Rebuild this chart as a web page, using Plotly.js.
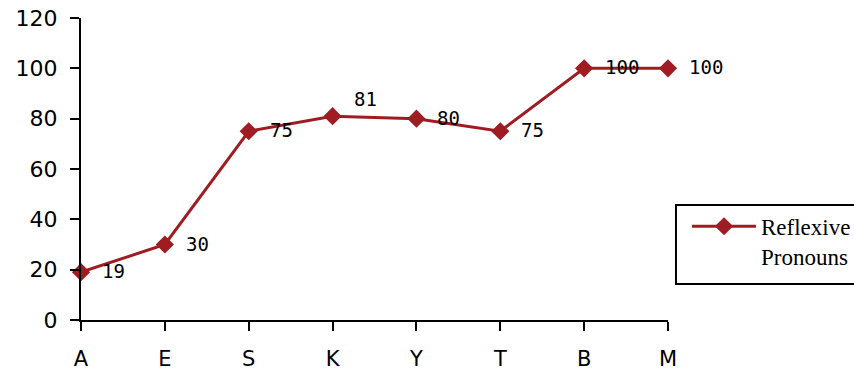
<!DOCTYPE html>
<html>
<head>
<meta charset="utf-8">
<script src="https://cdn.plot.ly/plotly-3.0.1.min.js"></script>
<style>
  html, body { margin: 0; padding: 0; background: #fff; }
  #chart { width: 854px; height: 370px; }
</style>
</head>
<body>
<div id="chart"></div>
<script>
// Categories along the x axis
const categories = ['A', 'E', 'S', 'K', 'Y', 'T', 'B', 'M'];
// Percentage of reflexive pronouns per category
const reflexiveValues = [19, 30, 75, 81, 80, 75, 100, 100];
// Y axis ticks
const yTicks = [0, 20, 40, 60, 80, 100, 120];
const seriesName = 'Reflexive<br>Pronouns';

const red = '#9e1c22';

const trace = {
  type: 'scatter',
  mode: 'lines+markers',
  x: categories,
  y: reflexiveValues,
  name: seriesName,
  line: { color: red, width: 3 },
  marker: { symbol: 'diamond', size: 14, color: red },
  cliponaxis: false,
  showlegend: true
};

// Value labels beside each point; K's label sits above-right
const labels = categories.map((c, i) => ({
  x: c,
  y: reflexiveValues[i],
  xref: 'x',
  yref: 'y',
  text: String(reflexiveValues[i]),
  showarrow: false,
  xanchor: 'left',
  yanchor: 'middle',
  xshift: 19,
  yshift: c === 'K' ? 17 : 1,
  font: { family: 'DejaVu Sans Mono', size: 19, color: '#000' }
}));

const layout = {
  width: 854,
  height: 370,
  paper_bgcolor: '#fff',
  plot_bgcolor: '#fff',
  margin: { l: 81, r: 186, t: 18, b: 50, autoexpand: false },
  showlegend: true,
  xaxis: {
    type: 'category',
    range: [0, categories.length - 1],
    showgrid: false,
    zeroline: false,
    showline: true,
    linecolor: '#000',
    linewidth: 2,
    ticks: 'outside',
    ticklen: 9,
    tickwidth: 2,
    tickcolor: '#000',
    ticklabelstandoff: 10,
    tickfont: { family: 'DejaVu Sans', size: 21, color: '#000' },
    fixedrange: true
  },
  // Overlay axis that supplies the inner half of the crossing x ticks
  xaxis2: {
    overlaying: 'x',
    anchor: 'y',
    side: 'bottom',
    type: 'linear',
    range: [0, categories.length - 1],
    tickmode: 'array',
    tickvals: categories.map((c, i) => i),
    showticklabels: false,
    showgrid: false,
    zeroline: false,
    showline: false,
    ticks: 'inside',
    ticklen: 9,
    tickwidth: 2,
    tickcolor: '#000',
    fixedrange: true
  },
  yaxis: {
    range: [0, 120],
    tickmode: 'array',
    tickvals: yTicks,
    showgrid: false,
    zeroline: false,
    showline: true,
    linecolor: '#000',
    linewidth: 2,
    ticks: 'outside',
    ticklen: 9,
    tickwidth: 2,
    tickcolor: '#000',
    ticklabelstandoff: 8,
    tickfont: { family: 'DejaVu Sans', size: 22, color: '#000' },
    fixedrange: true
  },
  legend: {
    x: 1.0324,
    xanchor: 'left',
    y: 0.3814,
    yanchor: 'top',
    borderwidth: 0,
    bgcolor: 'rgba(0,0,0,0)',
    itemwidth: 64,
    valign: 'top',
    font: { family: 'Liberation Serif', size: 23, color: '#000' }
  },
  // Legend frame, running off the right edge of the page
  shapes: [{
    type: 'rect',
    xref: 'paper',
    yref: 'paper',
    x0: 1.0136,
    x1: 1.4,
    y0: 0.1192,
    y1: 0.3808,
    line: { color: '#000', width: 2 },
    fillcolor: 'rgba(0,0,0,0)',
    layer: 'below'
  }],
  annotations: labels
};

Plotly.newPlot('chart', [trace], layout, { displayModeBar: false, staticPlot: true });
</script>
</body>
</html>
